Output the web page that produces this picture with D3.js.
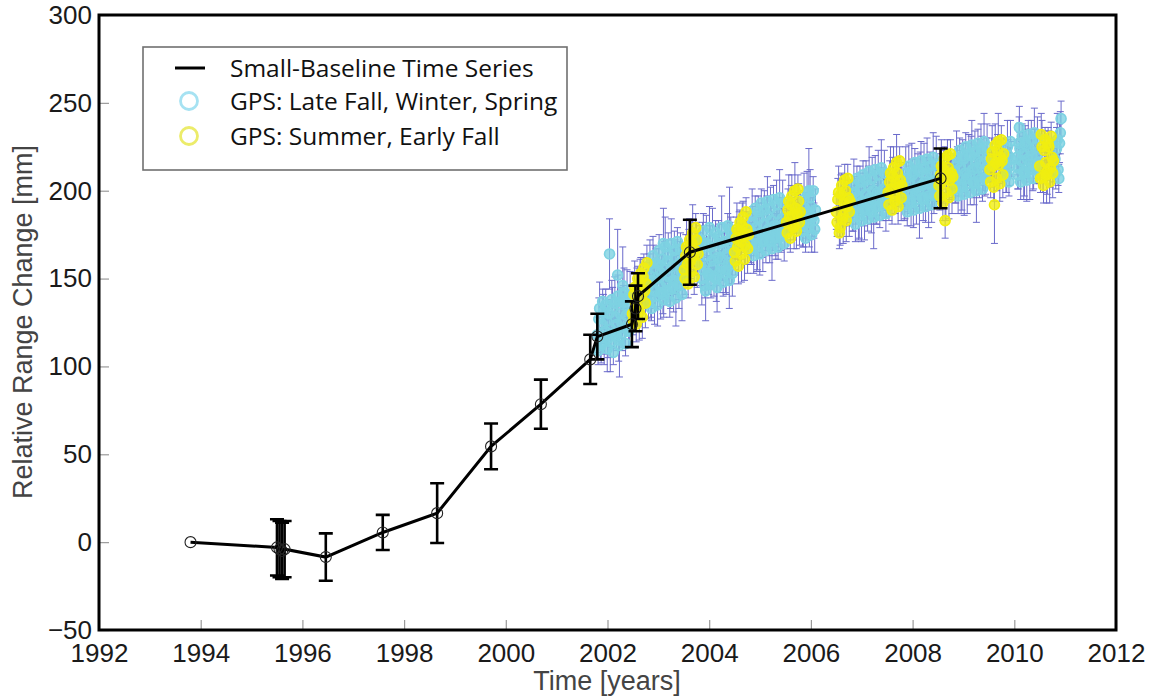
<!DOCTYPE html>
<html><head><meta charset="utf-8">
<script src="https://cdn.jsdelivr.net/npm/d3@7"></script>
<style>body{margin:0;background:#fff}svg{display:block}</style>
</head><body><svg id="chart" width="1154" height="698"></svg>
<script>
// ---------- data ----------
const xTicks = [1992,1994,1996,1998,2000,2002,2004,2006,2008,2010,2012];
const yTicks = [-50,0,50,100,150,200,250,300];
const yTickLabels = ["\u221250","0","50","100","150","200","250","300"];
const xTitle = "Time [years]";
const yTitle = "Relative Range Change [mm]";
const legendLabels = ["Small-Baseline Time Series","GPS: Late Fall, Winter, Spring","GPS: Summer, Early Fall"];

// Small-Baseline (InSAR) time series
const sbasTime  = [1993.80,1995.50,1995.55,1995.60,1995.65,1996.46,1997.58,1998.65,1999.71,2000.69,2001.66,2001.80,2002.48,2002.55,2002.60,2003.62,2008.55];
const sbasValue = [0,-3,-4,-5,-4,-8.5,5.5,16.5,54.5,78.5,104,117,124,133,140,165,207];
const sbasError = [0,16,16,16,16,13.5,10,17,13,14,14,13,13,13,13,18.5,17];

// GPS: late fall, winter, spring  [time, value, error]
const gpsWinter = [
[2001.80,118,10],[2001.83,127,12],[2001.86,113,9],[2001.89,124,11],[2001.92,131,10],[2001.95,120,13],[2001.98,126,9],[2002.01,116,11],[2002.04,164,20],[2002.07,121,10],[2002.10,133,12],[2002.13,119,9],[2002.16,128,11],[2002.19,124,10],[2002.20,152,26],[2002.22,115,12],[2002.25,130,9],[2002.28,125,14],[2002.30,146,22],[2002.31,136,10],[2002.34,122,11],[2002.37,129,9],[2002.40,134,12],[2002.43,121,10],[2002.46,131,11],
[2001.815,109,8],[2001.845,133,15],[2001.875,112,10],[2001.905,137,7],[2001.935,117,16],[2001.965,135,9],[2001.995,110,13],[2002.025,130,8],[2002.055,114,17],[2002.085,138,11],[2002.115,108,7],[2002.145,136,15],[2002.175,118,9],[2002.205,140,12],[2002.235,112,18],[2002.265,137,8],[2002.295,119,10],[2002.325,142,14],[2002.355,113,7],[2002.385,139,16],[2002.415,120,9],[2002.445,141,13],
[2002.79,145,10],[2002.82,152,12],[2002.85,139,11],[2002.88,149,9],[2002.91,156,13],[2002.94,143,10],[2002.97,150,11],[2003.00,158,9],[2003.03,146,12],[2003.06,153,10],[2003.09,141,11],[2003.10,170,20],[2003.12,155,16],[2003.15,148,10],[2003.18,160,12],[2003.21,151,9],[2003.24,144,11],[2003.27,157,10],[2003.30,149,18],[2003.33,162,10],[2003.36,152,11],[2003.39,147,9],[2003.42,159,12],[2003.45,154,10],[2003.48,150,11],
[2002.805,136,9],[2002.835,158,14],[2002.865,133,7],[2002.895,163,11],[2002.925,140,16],[2002.955,159,8],[2002.985,135,12],[2003.015,166,9],[2003.045,142,15],[2003.075,161,7],[2003.105,138,10],[2003.135,168,17],[2003.165,143,8],[2003.195,164,12],[2003.225,137,9],[2003.255,170,14],[2003.285,145,7],[2003.315,166,11],[2003.345,139,16],[2003.375,171,8],[2003.405,146,13],[2003.435,167,9],[2003.465,141,15],
[2003.81,166,10],[2003.84,158,12],[2003.87,171,11],[2003.90,155,9],[2003.93,143,17],[2003.96,163,10],[2003.99,152,11],[2004.02,168,12],[2004.05,160,9],[2004.08,157,11],[2004.11,165,10],[2004.14,150,13],[2004.17,162,9],[2004.20,170,11],[2004.23,156,10],[2004.26,161,12],[2004.29,167,9],[2004.32,153,11],[2004.35,164,10],[2004.38,159,12],[2004.40,178,24],[2004.41,172,10],[2004.44,158,11],[2004.47,166,9],
[2003.825,172,8],[2003.855,150,15],[2003.885,177,10],[2003.915,146,7],[2003.945,170,16],[2003.975,153,9],[2004.005,179,12],[2004.035,147,8],[2004.065,173,17],[2004.095,151,11],[2004.125,176,7],[2004.155,145,14],[2004.185,174,9],[2004.215,154,12],[2004.245,179,18],[2004.275,148,8],[2004.305,171,10],[2004.335,155,14],[2004.365,180,7],[2004.395,149,16],[2004.425,176,9],[2004.455,153,13],
[2004.80,177,10],[2004.83,170,12],[2004.86,182,9],[2004.89,174,11],[2004.92,179,10],[2004.95,168,13],[2004.98,184,9],[2005.01,176,11],[2005.04,172,10],[2005.07,181,12],[2005.10,175,9],[2005.13,186,11],[2005.16,178,10],[2005.19,171,12],[2005.22,183,9],[2005.25,177,11],[2005.28,180,10],[2005.31,174,13],[2005.34,187,9],[2005.37,179,11],[2005.40,176,10],[2005.43,184,12],[2005.46,181,9],[2005.49,178,11],
[2004.815,167,8],[2004.845,186,15],[2004.875,163,10],[2004.905,190,7],[2004.935,170,16],[2004.965,188,9],[2004.995,164,12],[2005.025,193,8],[2005.055,171,17],[2005.085,189,11],[2005.115,166,7],[2005.145,194,14],[2005.175,172,9],[2005.205,190,12],[2005.235,167,18],[2005.265,195,8],[2005.295,173,10],[2005.325,192,14],[2005.355,168,7],[2005.385,196,16],[2005.415,174,9],[2005.445,193,13],[2005.475,170,10],
[2005.82,186,10],[2005.85,180,12],[2005.88,190,9],[2005.91,184,11],[2005.94,188,10],[2005.96,200,24],[2005.97,182,14],[2006.00,191,9],[2006.03,185,11],[2006.06,183,10],[2006.09,189,12],
[2005.835,177,9],[2005.865,195,15],[2005.895,173,8],[2005.925,199,12],[2005.955,179,7],[2005.985,196,16],[2006.015,175,10],[2006.045,200,8],[2006.075,178,13],
[2006.80,195,10],[2006.83,189,12],[2006.86,199,9],[2006.89,192,11],[2006.92,197,10],[2006.95,186,13],[2006.98,201,9],[2007.01,194,11],[2007.04,190,10],[2007.07,198,12],[2007.10,193,9],[2007.13,203,11],[2007.16,196,10],[2007.19,188,12],[2007.22,200,9],[2007.25,195,11],[2007.28,191,10],[2007.31,199,13],[2007.34,204,9],[2007.37,197,11],[2007.40,193,10],[2007.43,201,12],[2007.46,198,9],[2007.49,196,11],
[2006.815,185,8],[2006.845,203,15],[2006.875,181,10],[2006.905,207,7],[2006.935,188,16],[2006.965,205,9],[2006.995,183,12],[2007.025,209,8],[2007.055,189,17],[2007.085,206,11],[2007.115,184,7],[2007.145,211,14],[2007.175,190,9],[2007.205,207,12],[2007.235,185,18],[2007.265,212,8],[2007.295,191,10],[2007.325,209,14],[2007.355,186,7],[2007.385,213,16],[2007.415,192,9],[2007.445,210,13],[2007.475,187,10],
[2007.82,202,10],[2007.85,196,12],[2007.88,207,9],[2007.91,199,11],[2007.94,204,10],[2007.97,193,13],[2008.00,209,9],[2008.03,201,11],[2008.06,198,10],[2008.09,206,12],[2008.12,200,9],[2008.15,211,11],[2008.18,203,10],[2008.21,195,12],[2008.24,205,9],[2008.27,208,11],[2008.30,199,10],[2008.33,204,13],[2008.36,210,9],[2008.39,202,11],[2008.42,197,10],[2008.45,206,12],[2008.48,203,9],
[2007.835,192,9],[2007.865,210,15],[2007.895,188,8],[2007.925,214,12],[2007.955,194,7],[2007.985,211,16],[2008.015,189,10],[2008.045,216,8],[2008.075,195,14],[2008.105,212,9],[2008.135,190,17],[2008.165,217,11],[2008.195,196,7],[2008.225,213,14],[2008.255,191,9],[2008.285,218,12],[2008.315,197,18],[2008.345,214,8],[2008.375,192,10],[2008.405,219,14],[2008.435,198,7],[2008.465,215,16],
[2008.82,211,10],[2008.85,205,12],[2008.88,216,9],[2008.91,208,11],[2008.94,213,10],[2008.97,202,13],[2009.00,218,9],[2009.03,210,11],[2009.06,207,10],[2009.09,215,12],[2009.12,209,9],[2009.15,220,11],[2009.18,212,10],[2009.21,204,12],[2009.24,217,9],[2009.27,213,11],[2009.30,208,10],[2009.33,216,13],[2009.36,222,9],[2009.39,211,11],[2009.42,207,10],[2009.45,218,12],[2009.48,214,9],
[2008.835,201,8],[2008.865,219,15],[2008.895,197,10],[2008.925,223,7],[2008.955,203,16],[2008.985,220,9],[2009.015,198,12],[2009.045,225,8],[2009.075,204,17],[2009.105,221,11],[2009.135,199,7],[2009.165,226,14],[2009.195,205,9],[2009.225,222,12],[2009.255,200,18],[2009.285,227,8],[2009.315,206,10],[2009.345,224,14],[2009.375,201,7],[2009.405,228,16],[2009.435,207,9],[2009.465,225,13],
[2009.82,216,10],[2009.85,211,12],[2009.88,220,9],[2009.91,214,11],[2009.94,218,10],
[2009.835,208,9],[2009.865,225,15],[2009.895,205,8],[2009.925,228,12],
[2010.05,219,10],[2010.08,213,12],[2010.10,236,12],[2010.11,224,9],[2010.14,217,11],[2010.17,221,10],[2010.20,210,13],[2010.23,226,9],[2010.26,218,11],[2010.29,215,10],[2010.32,223,12],[2010.35,220,9],[2010.38,212,11],[2010.41,225,10],[2010.44,219,12],[2010.47,216,9],
[2010.065,209,8],[2010.095,227,15],[2010.125,205,10],[2010.155,231,7],[2010.185,211,16],[2010.215,228,9],[2010.245,206,12],[2010.275,232,8],[2010.305,212,17],[2010.335,229,11],[2010.365,207,7],[2010.395,233,14],[2010.425,213,9],[2010.455,230,12],
[2010.80,218,10],[2010.83,224,12],[2010.86,212,9],[2010.89,227,11],[2010.92,241,10],
[2010.815,210,9],[2010.845,229,15],[2010.875,207,8],[2010.905,233,12]
];

// GPS: summer, early fall  [time, value, error]
const gpsSummer = [
[2002.49,130,10],[2002.52,141,12],[2002.55,136,9],[2002.58,145,11],[2002.61,133,10],[2002.64,148,13],[2002.67,140,9],[2002.70,151,11],[2002.73,143,10],[2002.76,147,12],
[2002.505,126,8],[2002.535,145,15],[2002.565,124,10],[2002.595,150,7],[2002.625,131,16],[2002.655,153,9],[2002.685,128,12],[2002.715,156,8],[2002.745,136,14],[2002.775,159,10],
[2003.51,155,10],[2003.54,163,12],[2003.57,158,9],[2003.60,167,11],[2003.63,160,10],[2003.66,170,13],[2003.69,163,9],[2003.72,166,11],[2003.75,172,10],[2003.78,164,12],
[2003.525,150,9],[2003.555,168,15],[2003.585,147,8],[2003.615,172,12],[2003.645,154,7],[2003.675,176,16],[2003.705,151,10],[2003.735,179,8],[2003.765,158,13],
[2004.50,165,10],[2004.53,173,12],[2004.56,168,9],[2004.59,177,11],[2004.62,171,10],[2004.65,180,13],[2004.68,174,9],[2004.71,169,11],[2004.74,178,10],[2004.77,175,12],
[2004.515,160,8],[2004.545,178,15],[2004.575,157,10],[2004.605,182,7],[2004.635,164,16],[2004.665,185,9],[2004.695,161,12],[2004.725,188,8],[2004.755,167,14],
[2005.52,182,10],[2005.55,189,12],[2005.58,185,9],[2005.61,192,11],[2005.64,186,10],[2005.67,180,13],[2005.70,190,9],[2005.73,187,11],[2005.76,194,10],[2005.79,188,12],
[2005.535,176,9],[2005.565,194,15],[2005.595,173,8],[2005.625,197,12],[2005.655,179,7],[2005.685,200,16],[2005.715,177,10],[2005.745,201,8],[2005.775,182,13],
[2006.50,188,10],[2006.53,195,12],[2006.56,176,9],[2006.59,198,11],[2006.62,184,10],[2006.65,193,13],[2006.68,200,9],[2006.71,191,11],[2006.74,196,10],[2006.77,194,12],
[2006.515,182,8],[2006.545,199,15],[2006.575,179,10],[2006.605,203,7],[2006.635,186,16],[2006.665,206,9],[2006.695,183,12],[2006.725,207,8],[2006.755,188,14],
[2007.52,199,10],[2007.55,205,12],[2007.58,201,9],[2007.61,208,11],[2007.64,197,10],[2007.67,204,13],[2007.70,210,9],[2007.73,202,11],[2007.76,206,10],[2007.79,203,12],
[2007.535,192,9],[2007.565,210,15],[2007.595,189,8],[2007.625,213,12],[2007.655,194,7],[2007.685,216,16],[2007.715,191,10],[2007.745,217,8],[2007.775,196,13],
[2008.52,203,10],[2008.55,209,12],[2008.58,205,9],[2008.61,212,11],[2008.64,183,10],[2008.67,207,13],[2008.70,213,9],[2008.73,206,11],[2008.76,210,10],[2008.79,208,12],
[2008.535,197,8],[2008.565,214,15],[2008.595,193,10],[2008.625,218,7],[2008.655,199,16],[2008.685,220,9],[2008.715,196,12],[2008.745,221,8],[2008.775,201,14],
[2009.52,212,10],[2009.55,218,12],[2009.58,214,9],[2009.61,192,22],[2009.64,216,13],[2009.67,223,9],[2009.70,215,11],[2009.73,219,10],[2009.76,217,12],[2009.79,221,9],
[2009.535,205,9],[2009.565,222,15],[2009.595,202,8],[2009.625,226,12],[2009.655,207,7],[2009.685,228,16],[2009.715,204,10],[2009.745,229,8],[2009.775,209,13],
[2010.50,214,10],[2010.53,232,12],[2010.56,208,9],[2010.59,223,11],[2010.62,216,10],[2010.65,211,13],[2010.68,225,9],[2010.71,213,11],[2010.74,219,10],[2010.77,217,12],
[2010.515,207,8],[2010.545,225,15],[2010.575,203,10],[2010.605,229,7],[2010.635,209,16],[2010.665,227,9],[2010.695,205,12],[2010.725,231,8],[2010.755,210,14]
];

// ---------- drawing ----------
const svg = d3.select("#chart");
const L = 99, R = 1116, T = 15, B = 630;
const x = d3.scaleLinear().domain([1992, 2012]).range([L, R]);
const y = d3.scaleLinear().domain([-50, 300]).range([B, T]);

const COL_CYAN = "#7dd2e2", COL_YEL = "#f0ee10", COL_BAR = "#6a6acb";
const tickFont = "'Liberation Sans', Arial, Helvetica, sans-serif";

// axes (ticks inward)
const yAxis = d3.axisLeft(y).tickValues(yTicks).tickFormat((d, i) => yTickLabels[i]).tickSize(-10).tickPadding(7);
const xAxis = d3.axisBottom(x).tickValues(xTicks).tickFormat(d3.format("d")).tickSize(-10).tickPadding(14);

const gy = svg.append("g").attr("transform", `translate(${L},0)`).call(yAxis);
const gx = svg.append("g").attr("transform", `translate(0,${B})`).call(xAxis);
[gx, gy].forEach(g => {
  g.select(".domain").remove();
  g.selectAll(".tick line").attr("stroke", "#9a9a9a").attr("stroke-width", 1.2);
  g.selectAll(".tick text").attr("fill", "#1a1a1a").style("font-family", tickFont).style("font-size", "26px");
});

// GPS error bars
const plot = svg.append("g");
const allGps = gpsWinter.map(d => ({t: d[0], v: d[1], e: d[2], c: COL_CYAN}))
  .concat(gpsSummer.map(d => ({t: d[0], v: d[1], e: d[2], c: COL_YEL})));
const capW = 3.5;
const bars = plot.append("g").attr("stroke", COL_BAR).attr("stroke-width", 1).attr("fill", "none");
allGps.forEach(d => {
  const cx = x(d.t), y0 = y(d.v - d.e), y1 = y(d.v + d.e);
  bars.append("path").attr("d", `M${cx},${y0}V${y1}M${cx - capW},${y0}H${cx + capW}M${cx - capW},${y1}H${cx + capW}`);
});

// GPS circles
plot.append("g").selectAll("circle").data(allGps).join("circle")
  .attr("cx", d => x(d.t)).attr("cy", d => y(d.v)).attr("r", 5)
  .attr("fill", d => d.c).attr("fill-opacity", 0.8)
  .attr("stroke", d => d.c).attr("stroke-width", 1.6);

// SBAS line
const sbas = sbasTime.map((t, i) => ({t, v: sbasValue[i], e: sbasError[i]}));
plot.append("path").datum(sbas)
  .attr("d", d3.line().x(d => x(d.t)).y(d => y(d.v)))
  .attr("fill", "none").attr("stroke", "#000").attr("stroke-width", 3);

// SBAS error bars
const sb = plot.append("g").attr("stroke", "#000").attr("stroke-width", 2.6).attr("fill", "none");
sbas.filter(d => d.e > 0).forEach(d => {
  const cx = x(d.t), y0 = y(d.v - d.e), y1 = y(d.v + d.e), w = 7;
  sb.append("path").attr("d", `M${cx},${y0}V${y1}M${cx - w},${y0}H${cx + w}M${cx - w},${y1}H${cx + w}`);
});
plot.append("g").selectAll("circle").data(sbas).join("circle")
  .attr("cx", d => x(d.t)).attr("cy", d => y(d.v)).attr("r", 5.5)
  .attr("fill", "none").attr("stroke", "#222").attr("stroke-width", 1.1);

// frame
svg.append("rect").attr("x", L).attr("y", T).attr("width", R - L).attr("height", B - T)
  .attr("fill", "none").attr("stroke", "#000").attr("stroke-width", 3);

// titles
svg.append("text").attr("x", 607).attr("y", 690).attr("text-anchor", "middle")
  .style("font-family", tickFont).style("font-size", "27px").attr("fill", "#444").text(xTitle);
svg.append("text").attr("transform", "translate(32,322) rotate(-90)").attr("text-anchor", "middle")
  .style("font-family", tickFont).style("font-size", "27px").attr("fill", "#444").text(yTitle);

// legend
const lg = svg.append("g");
lg.append("rect").attr("x", 143).attr("y", 47).attr("width", 424).attr("height", 123)
  .attr("fill", "#fff").attr("stroke", "#707070").attr("stroke-width", 1.6);
const rows = [68, 101, 136];
lg.append("line").attr("x1", 175).attr("x2", 205).attr("y1", rows[0]).attr("y2", rows[0])
  .attr("stroke", "#000").attr("stroke-width", 3);
lg.append("circle").attr("cx", 189).attr("cy", rows[1]).attr("r", 8.5).attr("fill", "none")
  .attr("stroke", "#a6e2f2").attr("stroke-width", 2.8);
lg.append("circle").attr("cx", 189).attr("cy", rows[2]).attr("r", 8.5).attr("fill", "none")
  .attr("stroke", "#ecec6a").attr("stroke-width", 2.8);
legendLabels.forEach((s, i) => {
  lg.append("text").attr("x", 230).attr("y", rows[i] + 8.5)
    .style("font-family", "'Open Sans', 'Noto Sans', sans-serif").style("font-size", "24.5px")
    .attr("fill", "#111").text(s);
});
</script></body></html>
